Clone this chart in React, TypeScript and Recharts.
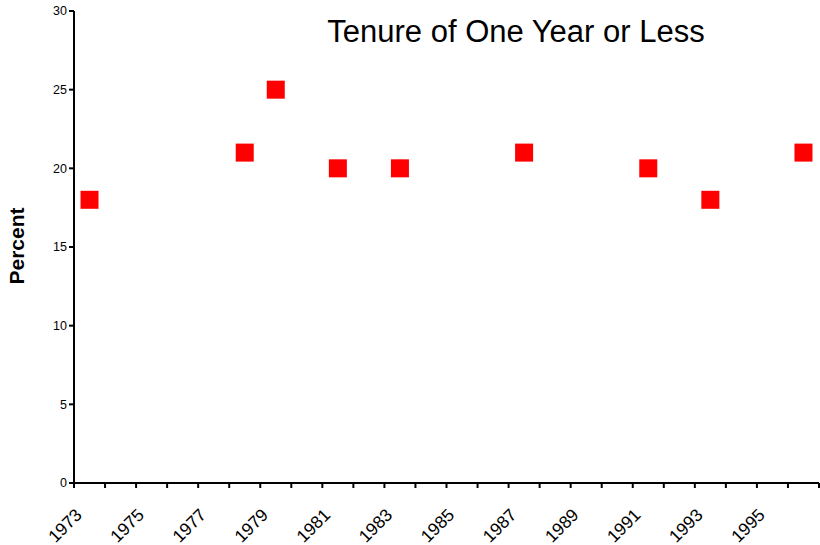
import { ScatterChart, Scatter, XAxis, YAxis } from 'recharts';

// years are category slots, point sits in the middle of its year slot
const years = [1973, 1978, 1979, 1981, 1983, 1987, 1991, 1993, 1996];
const percent = [18, 21, 25, 20, 20, 21, 20, 18, 21];
const yTicks = [0, 5, 10, 15, 20, 25, 30];
const xTicks = Array.from({ length: 25 }, (_, i) => 1973 + i);
const labelYears = [1973, 1975, 1977, 1979, 1981, 1983, 1985, 1987, 1989, 1991, 1993, 1995];

const data = years.map((y, i) => ({ year: y + 0.5, value: percent[i] }));

const font = 'Liberation Sans, Arial, sans-serif';

const SquareMark = (props: any) => {
  const { cx, cy } = props;
  return <rect x={cx - 9} y={cy - 9} width={18} height={18} fill="#ff0000" />;
};

const YearTick = (props: any) => {
  const { x, payload } = props;
  if (!labelYears.includes(payload.value)) return null;
  const tx = x + 9;
  const ty = 516;
  return (
    <text
      x={tx}
      y={ty}
      textAnchor="end"
      fontSize={17.5}
      fontFamily={font}
      fill="#000"
      transform={`rotate(-45, ${tx}, ${ty})`}
    >
      {payload.value}
    </text>
  );
};

export default function App() {
  return (
    <div style={{ position: 'absolute', left: 0, top: 0, width: 820, height: 545, background: '#fff' }}>
      <ScatterChart width={820} height={545} margin={{ top: 11, right: 1, bottom: 0, left: 0 }}>
        <text x={516} y={42} textAnchor="middle" fontSize={31} fontFamily={font} fill="#000">
          Tenure of One Year or Less
        </text>
        <text
          x={24}
          y={246}
          textAnchor="middle"
          fontSize={21}
          fontWeight="bold"
          fontFamily={font}
          fill="#000"
          transform="rotate(-90, 24, 246)"
        >
          Percent
        </text>
        <XAxis
          type="number"
          dataKey="year"
          domain={[1973, 1997]}
          ticks={xTicks}
          interval={0}
          height={62}
          axisLine={{ stroke: '#000', strokeWidth: 2 }}
          tickLine={{ stroke: '#000', strokeWidth: 2 }}
          tickSize={5}
          tick={<YearTick />}
        />
        <YAxis
          type="number"
          dataKey="value"
          domain={[0, 30]}
          ticks={yTicks}
          interval={0}
          width={74}
          axisLine={{ stroke: '#000', strokeWidth: 2 }}
          tickLine={{ stroke: '#000', strokeWidth: 2 }}
          tickSize={5}
          tick={{ fontSize: 12.5, fontFamily: font, fill: '#000' }}
        />
        <Scatter data={data} shape={<SquareMark />} isAnimationActive={false} />
      </ScatterChart>
    </div>
  );
}
